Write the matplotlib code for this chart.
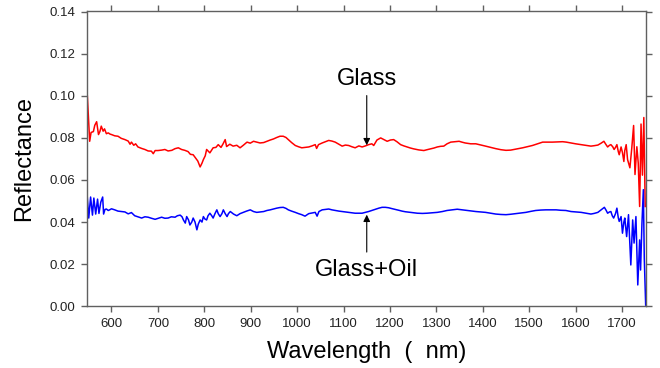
#!/usr/bin/env python
#
# reflectance spectra of glass and glass with oil
#
import matplotlib
matplotlib.use('Agg')
import numpy as np
import matplotlib.pyplot as plt
from matplotlib.ticker import FormatStrFormatter, MultipleLocator

#----------------------------------------------------------------
# data
#----------------------------------------------------------------
wl_glass = [548, 553, 556, 561, 564, 568, 572, 575, 578, 582, 585, 589, 593, 597,
            600, 607, 614, 621, 629, 636, 640, 643, 648, 652, 657, 665, 672, 679,
            686, 690, 694, 700, 708, 715, 722, 730, 737, 744, 751, 758, 765, 770,
            776, 781, 786, 791, 795, 798, 802, 805, 812, 819, 825, 830, 836, 840,
            845, 848, 855, 862, 870, 877, 884, 892, 899, 906, 913, 920, 928, 935,
            942, 949, 956, 963, 970, 976, 981, 988, 996, 1003, 1010, 1017, 1025,
            1032, 1039, 1042, 1046, 1054, 1061, 1068, 1075, 1082, 1090, 1097, 1104,
            1111, 1118, 1125, 1133, 1140, 1147, 1154, 1161, 1165, 1172, 1180, 1187,
            1194, 1201, 1208, 1215, 1223, 1230, 1237, 1244, 1251, 1262, 1273, 1280,
            1288, 1295, 1302, 1309, 1316, 1323, 1331, 1340, 1349, 1355, 1362, 1374,
            1385, 1395, 1406, 1417, 1428, 1439, 1450, 1460, 1467, 1476, 1486, 1496,
            1507, 1518, 1529, 1540, 1550, 1561, 1572, 1580, 1590, 1600, 1612, 1622,
            1633, 1640, 1648, 1655, 1661, 1665, 1669, 1673, 1676, 1680, 1683, 1686,
            1689, 1692, 1694, 1698, 1701, 1704, 1706, 1709, 1712, 1717, 1721, 1725,
            1728, 1732, 1735, 1738, 1741, 1744, 1747, 1750]
r_glass = [0.0999, 0.0784, 0.0826, 0.0830, 0.0860, 0.0877, 0.0816, 0.0830, 0.0856,
           0.0832, 0.0843, 0.0820, 0.0824, 0.0818, 0.0816, 0.0810, 0.0808, 0.0798,
           0.0792, 0.0785, 0.0770, 0.0780, 0.0765, 0.0772, 0.0757, 0.0750, 0.0745,
           0.0738, 0.0737, 0.0725, 0.0740, 0.0740, 0.0742, 0.0745, 0.0738, 0.0741,
           0.0749, 0.0753, 0.0745, 0.0741, 0.0735, 0.0722, 0.0720, 0.0705, 0.0690,
           0.0662, 0.0680, 0.0697, 0.0715, 0.0745, 0.0729, 0.0753, 0.0755, 0.0768,
           0.0755, 0.0770, 0.0792, 0.0759, 0.0770, 0.0761, 0.0765, 0.0753, 0.0765,
           0.0780, 0.0775, 0.0784, 0.0780, 0.0776, 0.0778, 0.0784, 0.0790, 0.0795,
           0.0802, 0.0808, 0.0808, 0.0802, 0.0792, 0.0778, 0.0764, 0.0758, 0.0753,
           0.0755, 0.0757, 0.0762, 0.0768, 0.0750, 0.0768, 0.0776, 0.0782, 0.0788,
           0.0785, 0.0780, 0.0770, 0.0761, 0.0766, 0.0764, 0.0758, 0.0753, 0.0762,
           0.0757, 0.0762, 0.0768, 0.0772, 0.0764, 0.0790, 0.0800, 0.0792, 0.0784,
           0.0790, 0.0792, 0.0782, 0.0768, 0.0762, 0.0757, 0.0752, 0.0748, 0.0743,
           0.0740, 0.0744, 0.0748, 0.0752, 0.0757, 0.0760, 0.0761, 0.0772, 0.0780,
           0.0782, 0.0784, 0.0780, 0.0776, 0.0772, 0.0772, 0.0767, 0.0761, 0.0755,
           0.0749, 0.0744, 0.0741, 0.0742, 0.0745, 0.0749, 0.0753, 0.0758, 0.0764,
           0.0772, 0.0780, 0.0780, 0.0780, 0.0781, 0.0782, 0.0780, 0.0776, 0.0772,
           0.0768, 0.0765, 0.0761, 0.0763, 0.0766, 0.0775, 0.0784, 0.0770, 0.0757,
           0.0765, 0.0768, 0.0758, 0.0745, 0.0755, 0.0768, 0.0735, 0.0720, 0.0757,
           0.0730, 0.0688, 0.0740, 0.0768, 0.0697, 0.0658, 0.0750, 0.0859, 0.0626,
           0.0758, 0.0680, 0.0474, 0.0866, 0.0623, 0.0897, 0.0474]

wl_oil = [548, 551, 555, 559, 562, 566, 570, 573, 577, 581, 583, 586, 589, 593, 596,
          600, 607, 614, 622, 629, 636, 643, 650, 657, 665, 672, 679, 686, 694, 701,
          708, 715, 722, 729, 737, 742, 748, 752, 755, 759, 762, 766, 769, 773, 776,
          780, 784, 787, 791, 795, 798, 801, 805, 808, 812, 816, 819, 823, 827, 830,
          834, 838, 841, 845, 849, 852, 856, 863, 870, 877, 884, 891, 899, 906, 913,
          920, 928, 935, 942, 949, 956, 963, 970, 976, 981, 988, 996, 1003, 1010,
          1017, 1025, 1032, 1039, 1043, 1047, 1054, 1061, 1068, 1075, 1082, 1090,
          1097, 1104, 1111, 1118, 1125, 1133, 1140, 1147, 1154, 1161, 1169, 1176,
          1183, 1190, 1197, 1204, 1212, 1219, 1226, 1233, 1244, 1259, 1270, 1280,
          1291, 1302, 1313, 1323, 1334, 1345, 1356, 1367, 1385, 1406, 1417, 1428,
          1439, 1450, 1460, 1471, 1482, 1493, 1504, 1514, 1525, 1536, 1547, 1558,
          1568, 1579, 1590, 1600, 1612, 1622, 1633, 1640, 1648, 1655, 1662, 1666,
          1669, 1673, 1676, 1679, 1682, 1686, 1689, 1692, 1694, 1698, 1701, 1704,
          1706, 1710, 1714, 1719, 1723, 1726, 1730, 1734, 1738, 1740, 1743, 1746,
          1748, 1751]
r_oil = [0.0514, 0.0419, 0.0519, 0.0433, 0.0514, 0.0438, 0.0509, 0.0441, 0.0495,
         0.0519, 0.0438, 0.0460, 0.0462, 0.0455, 0.0458, 0.0463, 0.0458, 0.0452,
         0.0450, 0.0448, 0.0439, 0.0445, 0.0430, 0.0425, 0.0419, 0.0425, 0.0423,
         0.0418, 0.0413, 0.0418, 0.0423, 0.0418, 0.0419, 0.0425, 0.0423, 0.0430,
         0.0433, 0.0425, 0.0410, 0.0395, 0.0426, 0.0410, 0.0386, 0.0400, 0.0419,
         0.0400, 0.0363, 0.0390, 0.0410, 0.0400, 0.0426, 0.0415, 0.0410, 0.0430,
         0.0442, 0.0430, 0.0419, 0.0440, 0.0458, 0.0440, 0.0426, 0.0440, 0.0458,
         0.0440, 0.0426, 0.0440, 0.0450, 0.0438, 0.0430, 0.0440, 0.0446, 0.0452,
         0.0458, 0.0450, 0.0446, 0.0448, 0.0450, 0.0455, 0.0458, 0.0462, 0.0466,
         0.0469, 0.0470, 0.0465, 0.0458, 0.0452, 0.0446, 0.0440, 0.0435, 0.0428,
         0.0440, 0.0443, 0.0446, 0.0428, 0.0450, 0.0458, 0.0460, 0.0462, 0.0458,
         0.0455, 0.0452, 0.0450, 0.0448, 0.0446, 0.0444, 0.0442, 0.0442, 0.0442,
         0.0446, 0.0450, 0.0455, 0.0461, 0.0466, 0.0470, 0.0470, 0.0468, 0.0464,
         0.0460, 0.0456, 0.0452, 0.0449, 0.0446, 0.0442, 0.0441, 0.0442, 0.0444,
         0.0446, 0.0450, 0.0455, 0.0458, 0.0461, 0.0458, 0.0455, 0.0450, 0.0446,
         0.0442, 0.0438, 0.0436, 0.0435, 0.0437, 0.0440, 0.0443, 0.0446, 0.0451,
         0.0455, 0.0457, 0.0458, 0.0458, 0.0458, 0.0456, 0.0455, 0.0450, 0.0448,
         0.0446, 0.0442, 0.0438, 0.0441, 0.0446, 0.0458, 0.0470, 0.0455, 0.0442,
         0.0448, 0.0450, 0.0430, 0.0419, 0.0440, 0.0466, 0.0420, 0.0403, 0.0426,
         0.0347, 0.0400, 0.0419, 0.0331, 0.0435, 0.0196, 0.0410, 0.0300, 0.0426,
         0.0101, 0.0315, 0.0172, 0.0395, 0.0554, 0.0228, 0.0005]

# annotation points (label position, arrow tip)
glass_txt = (1150, 0.1080)
glass_tip = (1150, 0.0765)
oil_txt = (1150, 0.0172)
oil_tip = (1150, 0.0435)

#----------------------------------------------------------------
plt.rcParams['font.family'] = ['Liberation Sans', 'DejaVu Sans']
axcol = '#606060'

fig = plt.figure(figsize=(6.6, 3.68), dpi=100)
ax = fig.add_axes([0.132, 0.168, 0.847, 0.803])

ax.plot(wl_glass, r_glass, color='#ff0000', lw=1.1)
ax.plot(wl_oil, r_oil, color='#0000ff', lw=1.1)

ax.annotate('Glass', xy=glass_tip, xytext=glass_txt, fontsize=17,
            ha='center', va='center',
            arrowprops=dict(arrowstyle='-|>', color='black', lw=0.8,
                            mutation_scale=10, shrinkA=2, shrinkB=0))
ax.annotate('Glass+Oil', xy=oil_tip, xytext=oil_txt, fontsize=17,
            ha='center', va='center',
            arrowprops=dict(arrowstyle='-|>', color='black', lw=0.8,
                            mutation_scale=10, shrinkA=3, shrinkB=0))

ax.set_xlim(547.5, 1752)
ax.set_ylim(0, 0.1405)
ax.xaxis.set_major_locator(MultipleLocator(100))
ax.yaxis.set_major_locator(MultipleLocator(0.02))
ax.yaxis.set_major_formatter(FormatStrFormatter('%.2f'))
ax.set_xticks(np.arange(600, 1701, 100))

ax.tick_params(direction='out', length=4.5, width=1, color=axcol, pad=4,
               top=True, right=True, labelsize=9.5, labelcolor='#222222')
for sp in ax.spines.values():
    sp.set_color(axcol)
    sp.set_linewidth(1.0)

ax.set_xlabel('Wavelength  (  nm)', fontsize=17, labelpad=8)
ax.set_ylabel('Reflectance', fontsize=17, labelpad=10)

plt.savefig('out.png', dpi=100)
